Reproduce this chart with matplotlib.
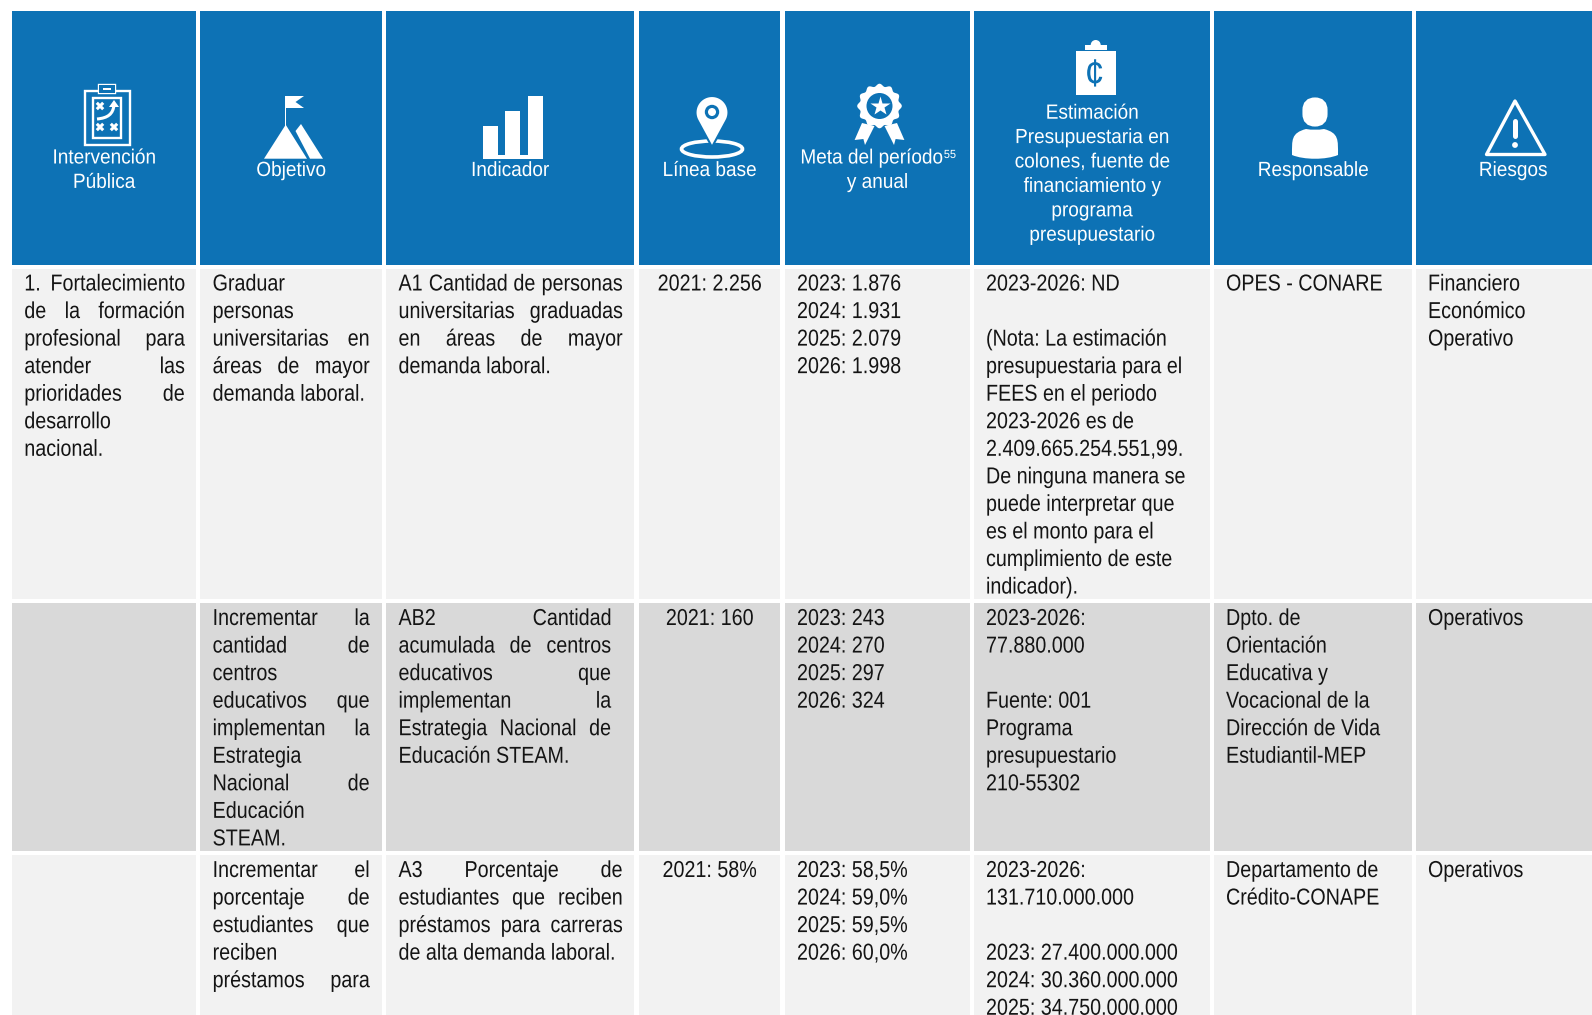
import numpy as np
import matplotlib
matplotlib.use("Agg")
import matplotlib.pyplot as plt
from matplotlib.patches import Rectangle, Polygon, Circle, Ellipse, PathPatch, FancyBboxPatch
from matplotlib.path import Path
from matplotlib.patheffects import AbstractPathEffect
from matplotlib.text import Text
from matplotlib.transforms import Affine2D, Bbox

# No hay Arial Narrow: se usa Liberation Sans comprimida en horizontal
FONT = "Liberation Sans"
BODY_SIZE = 16.6
BODY_SX = 0.855
HEAD_SIZE = 14.8
HEAD_SX = 0.925

AZUL = "#0D72B5"
CLARO = "#F2F2F2"
OSCURO = "#D9D9D9"
TEXTO = "#141414"

# bordes de columnas y filas, en pixeles
col_x = [(12, 196), (200, 382), (386, 634), (639, 780), (785, 970), (974, 1210), (1214, 1412), (1416, 1592)]
row_y = [(269, 599), (603, 851), (855, 1015)]
row_color = [CLARO, OSCURO, CLARO]
row_base = [290.5, 625, 877]

encabezados = [
    ["Intervención", "Pública"],
    ["Objetivo"],
    ["Indicador"],
    ["Línea base"],
    ["Meta del período", "y anual"],
    ["Estimación", "Presupuestaria en", "colones, fuente de", "financiamiento y", "programa", "presupuestario"],
    ["Responsable"],
    ["Riesgos"],
]
encabezado_base = [163.5, 176, 176, 176, 163.5, 118.7, 176, 176]

intervencion = [
    ["1. Fortalecimiento", "de la formación", "profesional para", "atender las",
     "prioridades de", "desarrollo", "nacional."],
    [],
    [],
]
objetivo = [
    ["Graduar", "personas", "universitarias en", "áreas de mayor", "demanda laboral."],
    ["Incrementar la", "cantidad de", "centros", "educativos que", "implementan la",
     "Estrategia", "Nacional de", "Educación", "STEAM."],
    ["Incrementar el", "porcentaje de", "estudiantes que", "reciben", "préstamos para"],
]
indicador = [
    ["A1 Cantidad de personas", "universitarias graduadas", "en áreas de mayor", "demanda laboral."],
    ["AB2 Cantidad", "acumulada de centros", "educativos que", "implementan la",
     "Estrategia Nacional de", "Educación STEAM."],
    ["A3 Porcentaje de", "estudiantes que reciben", "préstamos para carreras", "de alta demanda laboral."],
]
linea_base = ["2021: 2.256", "2021: 160", "2021: 58%"]
meta = [
    ["2023: 1.876", "2024: 1.931", "2025: 2.079", "2026: 1.998"],
    ["2023: 243", "2024: 270", "2025: 297", "2026: 324"],
    ["2023: 58,5%", "2024: 59,0%", "2025: 59,5%", "2026: 60,0%"],
]
estimacion = [
    ["2023-2026: ND", "", "(Nota: La estimación", "presupuestaria para el", "FEES en el periodo",
     "2023-2026 es de", "2.409.665.254.551,99.", "De ninguna manera se", "puede interpretar que",
     "es el monto para el", "cumplimiento de este", "indicador)."],
    ["2023-2026:", "77.880.000", "", "Fuente: 001", "Programa", "presupuestario", "210-55302"],
    ["2023-2026:", "131.710.000.000", "", "2023: 27.400.000.000", "2024: 30.360.000.000",
     "2025: 34.750.000.000"],
]
responsable = [
    ["OPES - CONARE"],
    ["Dpto. de", "Orientación", "Educativa y", "Vocacional de la", "Dirección de Vida", "Estudiantil-MEP"],
    ["Departamento de", "Crédito-CONAPE"],
]
riesgos = [
    ["Financiero", "Económico", "Operativo"],
    ["Operativos"],
    ["Operativos"],
]

PITCH = 27.55
HEAD_PITCH = 24.4

fig = plt.figure(figsize=(15.92, 10.15), dpi=100)
ax = fig.add_axes([0, 0, 1, 1])
ax.set_xlim(0, 1592)
ax.set_ylim(1015, 0)
ax.axis("off")
rend = fig.canvas.get_renderer()


class Estrecho(AbstractPathEffect):
    def __init__(self, sx):
        super().__init__()
        self.sx = sx

    def draw_path(self, renderer, gc, tpath, affine, rgbFace=None):
        renderer.draw_path(gc, tpath, Affine2D().scale(self.sx, 1) + affine, rgbFace)


class TextoEstrecho(Text):
    sx = 1.0

    def get_window_extent(self, renderer=None, dpi=None):
        bb = super().get_window_extent(renderer, dpi)
        return Bbox.from_extents(bb.x0, bb.y0, bb.x0 + bb.width * self.sx, bb.y1)


def rect(x0, y0, x1, y1, color, z=1):
    ax.add_patch(Rectangle((x0, y0), x1 - x0, y1 - y0, fc=color, ec="none", zorder=z))


def ancho(t):
    return t.get_window_extent(rend).width


def texto(x, y, s, size=BODY_SIZE, color=TEXTO, ha="left", sx=BODY_SX):
    t = TextoEstrecho(x, y, s, fontsize=size, color=color, family=FONT, ha="left", va="baseline", zorder=5)
    t.sx = sx
    t.set_path_effects([Estrecho(sx)])
    ax.add_artist(t)
    if ha == "center":
        t.set_x(x - ancho(t) / 2)
    return t


def lineas(x, y, filas):
    for i, s in enumerate(filas):
        if s:
            texto(x, y + i * PITCH, s)


# texto justificado: cada palabra se coloca para llegar hasta el borde derecho
def justificado(x0, x1, y, filas, ultima=False):
    for i, s in enumerate(filas):
        yy = y + i * PITCH
        palabras = s.split()
        if len(palabras) < 2 or (i == len(filas) - 1 and not ultima):
            texto(x0, yy, s)
            continue
        objs = [texto(x0, yy, p) for p in palabras]
        anchos = [ancho(t) for t in objs]
        hueco = (x1 - x0 - sum(anchos)) / (len(palabras) - 1)
        xx = x0
        for t, w in zip(objs, anchos):
            t.set_x(xx)
            xx += w + hueco


# fondos
for x0, x1 in col_x:
    rect(x0, 11, x1, 265, AZUL)
    for (y0, y1), c in zip(row_y, row_color):
        rect(x0, y0, x1, y1, c)

# encabezados
for (x0, x1), filas, base in zip(col_x, encabezados, encabezado_base):
    cx = (x0 + x1) / 2
    if x0 == 1214:
        cx = 1313
    if x0 == 1416:
        cx = 1513
    for i, s in enumerate(filas):
        t = texto(cx, base + i * HEAD_PITCH, s, size=HEAD_SIZE, color="white", ha="center", sx=HEAD_SX)
        if s == "Meta del período":
            # superindice 55 pegado al final
            sup = texto(0, base - 5.5, "55", size=8.5, color="white", sx=HEAD_SX)
            t.set_x(cx - (ancho(t) + ancho(sup)) / 2)
            sup.set_x(t.get_position()[0] + ancho(t) + 1.5)

# cuerpo
der_col1 = [184.7]
der_col2 = [369.6, 369.6, 369.6]
der_col3 = [622.5, 611, 622.5]
for r in range(3):
    base = row_base[r]
    if intervencion[r]:
        justificado(24.3, der_col1[0], base, intervencion[r])
    justificado(212.6, der_col2[r], base, objetivo[r], ultima=(r == 2))
    justificado(398.5, der_col3[r], base, indicador[r])
    texto(709.5, base, linea_base[r], ha="center")
    lineas(797, base, meta[r])
    lineas(986, base, estimacion[r])
    lineas(1226, base, responsable[r])
    lineas(1428, base, riesgos[r])

# iconos
B = "white"


def poly(puntos, color=B, z=3):
    ax.add_patch(Polygon(puntos, closed=True, fc=color, ec="none", zorder=z))


def marco(x0, y0, x1, y1, lw=1.7):
    ax.add_patch(Rectangle((x0, y0), x1 - x0, y1 - y0, fc="none", ec=B, lw=lw, zorder=3))


def equis(cx, cy, r=3.2):
    ax.plot([cx - r, cx + r], [cy - r, cy + r], color=B, lw=2.2, zorder=3, solid_capstyle="butt")
    ax.plot([cx - r, cx + r], [cy + r, cy - r], color=B, lw=2.2, zorder=3, solid_capstyle="butt")


# tablero
marco(85, 91, 130, 144.5)
marco(92.5, 98, 120.5, 138)
rect(99, 85, 115, 93, AZUL, z=4)
marco(99, 85, 115, 93)
rect(103, 88, 111, 89.5, B, z=5)
equis(100, 106)
equis(100, 127)
equis(114, 127)
ax.add_patch(PathPatch(Path([(97, 119), (108, 118), (113, 114), (114, 105)],
                           [Path.MOVETO, Path.CURVE4, Path.CURVE4, Path.CURVE4]),
                       fc="none", ec=B, lw=2.2, zorder=3))
poly([(114, 100), (119, 107), (109, 107)])

# montana
rect(284.6, 96, 286, 126, B, z=3)
poly([(285, 96), (304, 96), (295.5, 102), (304, 108), (285, 108)])
poly([(285.7, 124.7), (264, 158.7), (307, 158.7)])
poly([(301, 124), (323, 158.7), (310, 158.7), (295.5, 131)])

# barras
rect(483, 126, 498, 158.7, B, z=3)
rect(505, 111, 520, 158.7, B, z=3)
rect(528, 96, 543, 158.7, B, z=3)
rect(483, 155, 543, 158.7, B, z=3)

# ubicacion
ax.add_patch(Ellipse((712, 149), 61, 16, fc="none", ec=B, lw=2.6, zorder=3))
ang = np.radians(np.linspace(-30, 210, 40))
contorno = [(712 + 16.5 * np.cos(a), 112.5 - 16.5 * np.sin(a)) for a in ang]
ax.add_patch(Polygon(contorno + [(712, 147)], closed=True, fc=B, ec=AZUL, lw=1.5, zorder=4))
ax.add_patch(Circle((712, 112), 7.2, fc=AZUL, ec="none", zorder=5))
ax.add_patch(Circle((712, 112), 4, fc=B, ec="none", zorder=6))

# medalla
poly([(862, 123), (874.5, 126), (865, 145), (863.4, 139), (854.6, 140)])
poly([(897, 123), (884.5, 126), (894, 145), (895.6, 139), (904.4, 140)])
t = np.radians(np.linspace(0, 360, 241))
rr = 21 + 1.3 * np.cos(12 * t)
poly(list(zip(879.5 + rr * np.cos(t), 106 + rr * np.sin(t))), z=4)
ax.add_patch(Circle((879.5, 106), 13, fc=AZUL, ec="none", zorder=5))
ax.plot([879.5], [105.5], marker="*", ms=15, mfc=B, mec="none", zorder=6)

# portapapeles
rect(1075.5, 51, 1116, 94.7, B, z=3)
rect(1085, 45, 1107, 50, B, z=3)
ax.add_patch(Circle((1095.7, 45), 5, fc=B, ec="none", zorder=3))
texto(1094.5, 86, "¢", size=28, color=AZUL, ha="center", sx=0.9)

# persona
ax.add_patch(FancyBboxPatch((1308, 103), 14, 18, boxstyle="round,pad=0,rounding_size=7",
                            fc=B, ec=B, lw=8, zorder=3))
ax.add_patch(PathPatch(Path([(1292, 155), (1292, 140), (1291, 133), (1306, 129),
                             (1312, 130), (1318, 130), (1324, 129),
                             (1339, 133), (1338, 140), (1338, 155),
                             (1326, 160), (1304, 160), (1292, 155)],
                            [Path.MOVETO, Path.CURVE4, Path.CURVE4, Path.CURVE4,
                             Path.CURVE4, Path.CURVE4, Path.CURVE4,
                             Path.CURVE4, Path.CURVE4, Path.CURVE4,
                             Path.CURVE4, Path.CURVE4, Path.CURVE4]),
                       fc=B, ec="none", zorder=3))

# alerta
ax.add_patch(Polygon([(1515, 101), (1486.5, 154.5), (1545, 154.5)], closed=True, fc="none",
                     ec=B, lw=2.4, joinstyle="round", zorder=3))
ax.plot([1515, 1515], [121, 136], color=B, lw=3.6, solid_capstyle="round", zorder=3)
ax.add_patch(Circle((1515, 145), 2.9, fc=B, ec="none", zorder=3))

fig.savefig("out.png", dpi=100, facecolor="white")
